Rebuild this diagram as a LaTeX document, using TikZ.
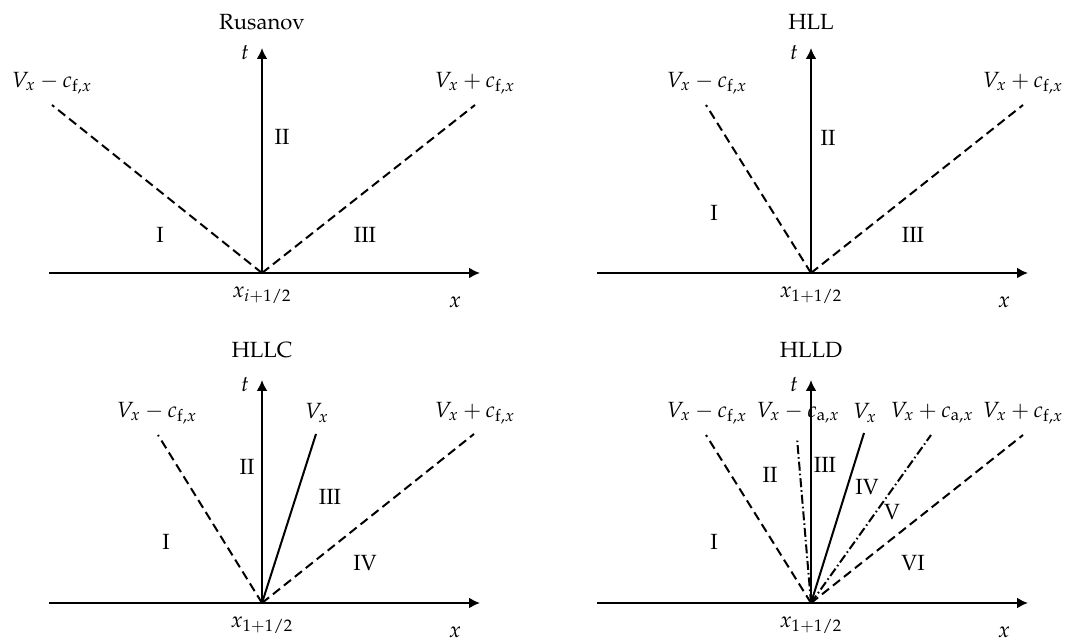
\documentclass[tikz,border=0pt]{standalone}
\usepackage[T1]{fontenc}
\usepackage{mathpazo}
\usepackage{tikz}
\usetikzlibrary{arrows.meta,positioning}
\tikzset{
  axis/.style={-{Latex[length=5.5pt,width=5.5pt]}, line width=1pt},
  fast/.style={line width=1pt, dash pattern=on 4.5pt off 2.5pt},
  alfven/.style={line width=1pt, dash pattern=on 4.5pt off 1.5pt on 0.8pt off 1.5pt},
  contact/.style={line width=1pt},
  wavelbl/.style={inner sep=1pt},
  region/.style={inner sep=1pt},
  solver/.style={inner sep=1pt}
}
\begin{document}
\begin{tikzpicture}[x=0.5pt, y=0.5pt, font=\fontsize{11}{13}\selectfont]
  \useasboundingbox (0,0) rectangle (1085,641);

  % Rusanov
  \begin{scope}[shift={(262,368)}]
    \coordinate (oa) at (0,0);
    \coordinate (xla) at (-213,0);
    \coordinate (xra) at (218,0);
    \coordinate (ta) at (0,225);
    \coordinate (fla) at (-210,168);
    \coordinate (fra) at (213,168);
    \draw[axis] (xla) -- (xra);
    \draw[axis] (oa) -- (ta);
    \draw[fast] (oa) -- (fla);
    \draw[fast] (oa) -- (fra);
    \node[solver] (sa) at (0,251) {Rusanov};
    \node (tlba) at (-17,220) {$t$};
    \node (xlba) at (193,-29) {$x$};
    \node (ixa) at (0,-22) {$x_{i+1/2}$};
    \node[wavelbl] (wla) at (-210,190) {$V_x - c_{\mathrm{f},x}$};
    \node[wavelbl] (wra) at (213,190) {$V_x + c_{\mathrm{f},x}$};
    \node[region] (r1a) at (-102,38) {I};
    \node[region] (r2a) at (20,136) {II};
    \node[region] (r3a) at (103,38) {III};
  \end{scope}

  % HLL
  \begin{scope}[shift={(811,368)}]
    \coordinate (ob) at (0,0);
    \coordinate (xlb) at (-214,0);
    \coordinate (xrb) at (217,0);
    \coordinate (tb) at (0,225);
    \coordinate (flb) at (-105,168);
    \coordinate (frb) at (212,168);
    \draw[axis] (xlb) -- (xrb);
    \draw[axis] (ob) -- (tb);
    \draw[fast] (ob) -- (flb);
    \draw[fast] (ob) -- (frb);
    \node[solver] (sb) at (0,251) {HLL};
    \node (tlbb) at (-17,220) {$t$};
    \node (xlbb) at (193,-29) {$x$};
    \node (ixb) at (0,-22) {$x_{1+1/2}$};
    \node[wavelbl] (wlb) at (-104,190) {$V_x - c_{\mathrm{f},x}$};
    \node[wavelbl] (wrb) at (212,190) {$V_x + c_{\mathrm{f},x}$};
    \node[region] (r1b) at (-97,60) {I};
    \node[region] (r2b) at (17,135) {II};
    \node[region] (r3b) at (102,38) {III};
  \end{scope}

  % HLLC
  \begin{scope}[shift={(262,38)}]
    \coordinate (oc) at (0,0);
    \coordinate (xlc) at (-213,0);
    \coordinate (xrc) at (218,0);
    \coordinate (tc) at (0,223);
    \coordinate (flc) at (-104,168);
    \coordinate (vc) at (54,169);
    \coordinate (frc) at (212,169);
    \draw[axis] (xlc) -- (xrc);
    \draw[axis] (oc) -- (tc);
    \draw[fast] (oc) -- (flc);
    \draw[contact] (oc) -- (vc);
    \draw[fast] (oc) -- (frc);
    \node[solver] (sc) at (0,253) {HLLC};
    \node (tlbc) at (-17,218) {$t$};
    \node (xlbc) at (193,-29) {$x$};
    \node (ixc) at (0,-22) {$x_{1+1/2}$};
    \node[wavelbl] (wlc) at (-105,190) {$V_x - c_{\mathrm{f},x}$};
    \node[wavelbl] (wvc) at (55,190) {$V_x$};
    \node[wavelbl] (wrc) at (213,190) {$V_x + c_{\mathrm{f},x}$};
    \node[region] (r1c) at (-96,61) {I};
    \node[region] (r2c) at (-15,136) {II};
    \node[region] (r3c) at (68,106) {III};
    \node[region] (r4c) at (103,40) {IV};
  \end{scope}

  % HLLD
  \begin{scope}[shift={(811,38)}]
    \coordinate (od) at (0,0);
    \coordinate (xld) at (-214,0);
    \coordinate (xrd) at (217,0);
    \coordinate (td) at (0,223);
    \coordinate (fld) at (-105,168);
    \coordinate (ald) at (-14,165);
    \coordinate (vd) at (53,170);
    \coordinate (ard) at (120,168);
    \coordinate (frd) at (212,168);
    \draw[axis] (xld) -- (xrd);
    \draw[axis] (od) -- (td);
    \draw[fast] (od) -- (fld);
    \draw[alfven] (od) -- (ald);
    \draw[contact] (od) -- (vd);
    \draw[alfven] (od) -- (ard);
    \draw[fast] (od) -- (frd);
    \node[solver] (sd) at (0,253) {HLLD};
    \node (tlbd) at (-17,218) {$t$};
    \node (xlbd) at (193,-29) {$x$};
    \node (ixd) at (0,-22) {$x_{1+1/2}$};
    \node[wavelbl] (wld) at (-104,190) {$V_x - c_{\mathrm{f},x}$};
    \node[wavelbl] (wad) at (-13,190) {$V_x - c_{\mathrm{a},x}$};
    \node[wavelbl] (wvd) at (54,190) {$V_x$};
    \node[wavelbl] (wbd) at (121,190) {$V_x + c_{\mathrm{a},x}$};
    \node[wavelbl] (wrd) at (212,190) {$V_x + c_{\mathrm{f},x}$};
    \node[region] (r1d) at (-97,61) {I};
    \node[region] (r2d) at (-41,128) {II};
    \node[region] (r3d) at (14,138) {III};
    \node[region] (r4d) at (56,116) {IV};
    \node[region] (r5d) at (81,91) {V};
    \node[region] (r6d) at (102,40) {VI};
  \end{scope}
\end{tikzpicture}
\end{document}
